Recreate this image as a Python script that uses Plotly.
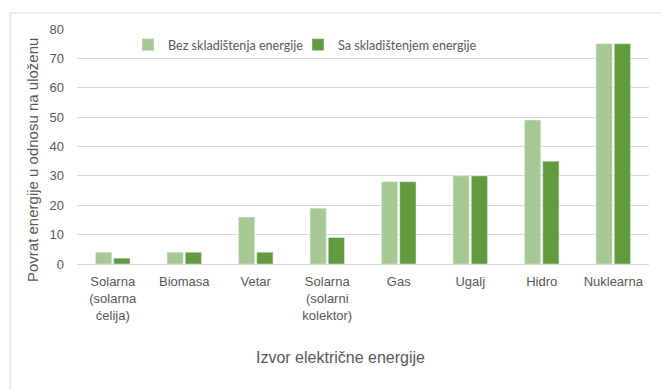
import plotly.graph_objects as go

categories = ["Solarna<br>(solarna<br>ćelija)", "Biomasa", "Vetar", "Solarna<br>(solarni<br>kolektor)",
              "Gas", "Ugalj", "Hidro", "Nuklearna"]
bez = [4, 4, 16, 19, 28, 30, 49, 75]
sa = [2, 4, 4, 9, 28, 30, 35, 75]
series_names = ["Bez skladištenja energije", "Sa skladištenjem energije"]
y_ticks = [0, 10, 20, 30, 40, 50, 60, 70, 80]

W, H = 662, 390
L, R, T, B = 77, 13, 29, 126
pw, ph = W - L - R, H - T - B

def px_x(p):
    return (p - L) / pw

def px_y(p):
    return (H - B - p) / ph

txt = "#595959"
fig = go.Figure()
fig.add_trace(go.Bar(x=categories, y=bez, name=series_names[0], marker_color="#A6C893", legend="legend"))
fig.add_trace(go.Bar(x=categories, y=sa, name=series_names[1], marker_color="#629B3E", legend="legend2"))

leg_common = dict(orientation="h", xanchor="left", y=px_y(45), yanchor="middle",
                  font=dict(family="Lato", size=12.6, color=txt), bgcolor="rgba(0,0,0,0)")

fig.update_layout(
    width=W, height=H,
    margin=dict(l=L, r=R, t=T, b=B),
    paper_bgcolor="white", plot_bgcolor="white",
    barmode="group", bargap=0.49, bargroupgap=0.11,
    font=dict(family="Liberation Sans, Arial", color=txt, size=13),
    legend=dict(x=px_x(128), **leg_common),
    legend2=dict(x=px_x(298), **leg_common),
    xaxis=dict(showgrid=False, ticks="", showline=False, tickfont=dict(size=13, color=txt),
               ticklabelstandoff=8),
    yaxis=dict(range=[0, 80], tickvals=y_ticks, showgrid=True, gridcolor="#D9D9D9", gridwidth=1,
               zeroline=True, zerolinecolor="#D9D9D9", zerolinewidth=1, ticks="", showline=False,
               tickfont=dict(size=13, color=txt), ticklabelstandoff=12),
    showlegend=True,
)
fig.add_annotation(text="Povrat energije u odnosu na uloženu", xref="paper", yref="paper",
                   x=px_x(32), y=px_y(160), textangle=-90, showarrow=False,
                   font=dict(size=15, color=txt), xanchor="center", yanchor="middle")
fig.add_annotation(text="Izvor električne energije", xref="paper", yref="paper",
                   x=px_x(340), y=px_y(357), showarrow=False,
                   font=dict(size=16, color=txt), xanchor="center", yanchor="middle")
fig.add_shape(type="rect", xref="paper", yref="paper", x0=px_x(10), x1=px_x(700), y0=px_y(420), y1=px_y(13),
              line=dict(color="#D9D9D9", width=1), fillcolor="rgba(0,0,0,0)", layer="below")
fig.write_html("out.html")
